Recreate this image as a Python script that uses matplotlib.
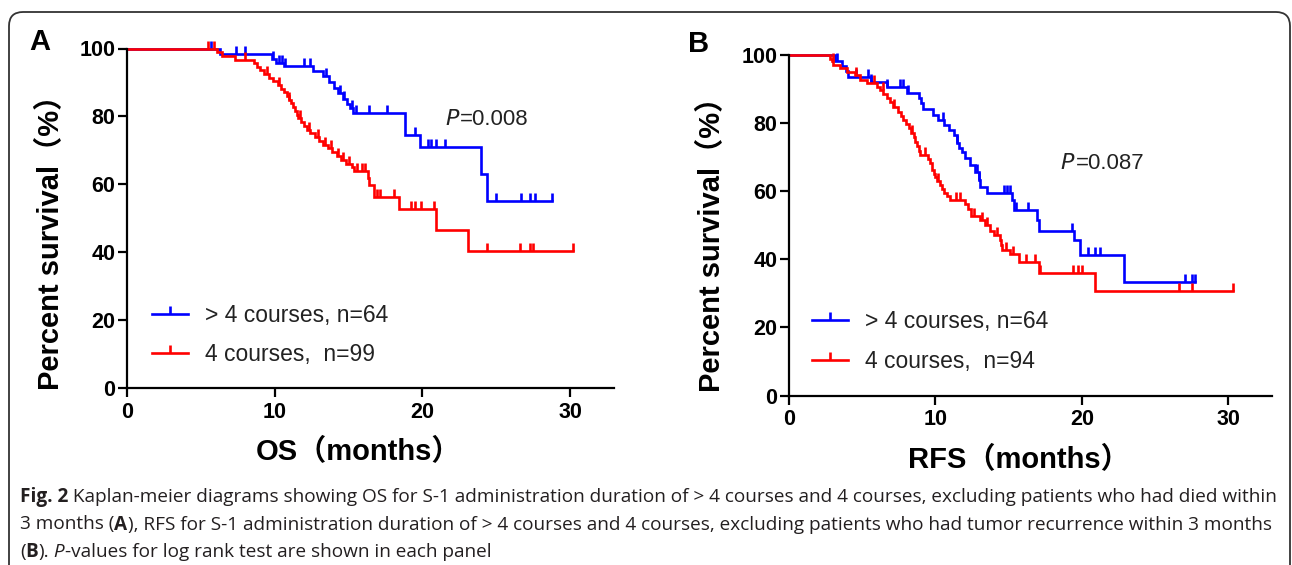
import numpy as np
import matplotlib
matplotlib.use("Agg")
import matplotlib.pyplot as plt
from matplotlib.path import Path
from matplotlib.lines import Line2D
from matplotlib.patches import FancyBboxPatch
from matplotlib.transforms import IdentityTransform
from matplotlib.font_manager import FontProperties

# ---------------- data ----------------
# Panel A : OS
os_blue_t = [6.3, 9.8, 10.1, 10.6, 12.6, 13.3, 13.7, 14.0, 14.3, 14.6, 14.9, 15.1, 15.3,
             18.8, 19.85, 24.0, 24.35]
os_blue_s = [98.4, 96.8, 95.8, 94.8, 93.4, 91.8, 90.1, 88.4, 86.8, 85.2, 83.7, 82.4, 81.0,
             74.6, 71.0, 63.0, 55.0]
os_blue_cens = [5.7, 7.4, 8.0, 9.9, 10.3, 10.5, 10.7, 12.0, 12.4, 13.5, 14.4, 14.7, 15.2,
                15.5, 16.4, 17.6, 19.5, 20.4, 20.6, 20.9, 21.5, 25.0, 26.7, 27.3, 27.6, 28.8]

os_red_t = [6.1, 6.4, 7.3, 8.6, 8.8, 9.0, 9.3, 9.6, 9.9, 10.2, 10.4, 10.6, 10.8, 10.95,
            11.1, 11.25, 11.4, 11.5, 11.6, 11.8, 12.0, 12.2, 12.4, 12.7, 13.0, 13.3, 13.6,
            13.9, 14.2, 14.5, 14.8, 15.2, 15.4, 16.3, 16.4, 16.7, 18.4, 20.9, 23.1]
os_red_s = [98.9, 97.8, 96.7, 95.7, 94.6, 93.6, 92.5, 91.4, 90.4, 89.3, 88.2, 87.1, 86.0, 84.9,
            83.8, 82.7, 81.6, 80.5, 79.4, 78.3, 77.2, 76.1, 75.0, 73.9, 72.8, 71.7, 70.6,
            69.5, 68.3, 67.2, 66.1, 65.0, 63.8, 62.0, 59.9, 56.4, 52.8, 46.6, 40.4]
os_red_cens = [5.5, 5.9, 8.0, 9.5, 10.3, 11.0, 11.7, 12.3, 12.9, 13.4, 13.8, 14.3, 14.6, 15.0,
               15.6, 15.9, 16.1, 16.9, 17.1, 18.1, 19.2, 19.5, 19.9, 20.8, 24.4, 26.6, 27.3,
               27.5, 30.2]

# Panel B : RFS
rfs_blue_t = [3.14, 3.6, 3.9, 4.05, 5.6, 6.68, 8.04, 8.9, 9.0, 9.18, 9.86, 10.2, 10.55, 10.89,
              11.23, 11.46, 11.6, 11.8, 12.03, 12.37, 12.71, 12.94, 13.06, 13.51, 15.22, 15.33,
              16.93, 17.04, 19.43, 19.89, 22.85]
rfs_blue_s = [98.4, 96.9, 95.3, 93.7, 92.2, 90.6, 89.0, 87.4, 85.9, 84.2, 82.5, 81.0, 79.5, 78.0,
              76.5, 74.2, 72.8, 71.7, 69.7, 67.8, 65.8, 63.4, 61.4, 59.5, 57.5, 54.5,
              51.6, 48.5, 45.7, 41.3, 33.5]
rfs_blue_cens = [3.3, 4.6, 5.4, 5.6, 6.7, 7.6, 7.8, 8.1, 10.5, 11.5, 12.8, 13.0, 14.7, 14.9,
                 15.1, 15.5, 16.3, 19.3, 20.4, 20.9, 21.2, 27.0, 27.5, 27.7]

rfs_red_t = [2.8, 2.95, 3.03, 3.5, 3.94, 4.5, 4.85, 5.3, 6.0, 6.2, 6.45, 6.68, 6.9, 7.13, 7.47,
             7.65, 7.81, 8.0, 8.16, 8.35, 8.5, 8.6, 8.73, 8.85, 8.95, 9.52, 9.6, 9.75, 9.9,
             10.0, 10.1, 10.3, 10.45, 10.6, 10.8, 11.0, 12.0, 12.2, 12.4, 13.06, 13.4, 13.74,
             14.0, 14.42, 14.5, 14.55, 15.1, 15.67, 17.04, 20.92]
rfs_red_s = [98.9, 98.2, 97.2, 96.2, 95.2, 94.2, 92.8, 91.8, 90.8, 89.8, 88.6, 87.4, 86.2, 84.9,
             83.4, 82.2, 81.0, 79.8, 78.6, 77.3, 76.1, 74.6, 73.2, 71.9, 70.7, 69.5, 68.4,
             66.2, 65.2, 64.1, 63.0, 61.9, 60.8, 59.6, 58.5, 57.5, 56.4, 54.8, 52.9, 51.5,
             50.0, 48.5, 47.1, 45.7, 44.2, 42.8, 41.5, 39.3, 35.9, 30.8]
rfs_red_cens = [3.0, 4.6, 5.8, 6.4, 7.2, 8.4, 9.3, 10.2, 11.4, 11.7, 12.6, 13.2, 13.5, 14.2,
                14.8, 15.3, 16.2, 16.8, 17.1, 19.4, 19.7, 20.0, 26.6, 27.5, 30.3]

x_ticks = [0, 10, 20, 30]
y_ticks = [0, 20, 40, 60, 80, 100]
blue_label = "> 4 courses, n=64"
red_labels = ["4 courses,  n=99", "4 courses,  n=94"]
p_texts = ["0.008", "0.087"]
x_labels = ["OS（months）", "RFS（months）"]
y_label = "Percent survival（%）"
panel_letters = ["A", "B"]

# ---------------- figure ----------------
W, H = 1292, 565
fig = plt.figure(figsize=(W / 100, H / 100), dpi=100)
fig.patch.set_facecolor("white")

BLUE = "#0000FF"
RED = "#FF0000"
LW = 1.9
tick_up = Path([(0, 0), (0, 1)], [Path.MOVETO, Path.LINETO])

lab_family = ["Liberation Sans", "Noto Sans CJK SC", "DejaVu Sans"]


def px_axes(left_px, x0_px, top_px, bottom_px, xmax, xscale):
    right_px = x0_px + xmax * xscale
    return fig.add_axes([left_px / W, (H - bottom_px) / H,
                         (right_px - left_px) / W, (bottom_px - top_px) / H])


def km(ax, times, surv, cens, color, end):
    xs = [0] + list(times) + [end]
    ys = [100] + list(surv) + [surv[-1]]
    ax.step(xs, ys, where="post", color=color, lw=LW, clip_on=False,
            solid_joinstyle="miter")
    levels = np.array([100] + list(surv))
    idx = np.searchsorted(np.array(times), np.array(cens), side="right")
    ax.plot(cens, levels[idx], linestyle="none", marker=tick_up, ms=12, mew=LW,
            color=color, clip_on=False)


panels = [
    dict(x0=127, xs=14.77, top=48.5, bot=388.0, xmax=33.0,
         blue=(os_blue_t, os_blue_s, os_blue_cens), red=(os_red_t, os_red_s, os_red_cens),
         p_xy=(21.5, 79.0), leg=(0.051, 0.248), ylab=(-0.155, 0.45), xlab=(0.474, -0.19),
         letter=(40, 42)),
    dict(x0=789, xs=14.65, top=55.3, bot=395.5, xmax=33.0,
         blue=(rfs_blue_t, rfs_blue_s, rfs_blue_cens), red=(rfs_red_t, rfs_red_s, rfs_red_cens),
         p_xy=(18.5, 68.3), leg=(0.047, 0.251), ylab=(-0.159, 0.466), xlab=(0.476, -0.19),
         letter=(699, 44)),
]

for i, p in enumerate(panels):
    ax = px_axes(p["x0"], p["x0"], p["top"], p["bot"], p["xmax"], p["xs"])
    ax.set_xlim(0, p["xmax"])
    ax.set_ylim(0, 100)
    for s in ("top", "right"):
        ax.spines[s].set_visible(False)
    for s in ("left", "bottom"):
        ax.spines[s].set_linewidth(1.6)
        ax.spines[s].set_color("black")
    ax.set_xticks(x_ticks)
    ax.set_yticks(y_ticks)
    ax.tick_params(direction="out", length=6.5, width=1.6, color="black")
    ax.tick_params(axis="x", pad=3.5)
    ax.tick_params(axis="y", pad=2)
    for lab in ax.get_xticklabels() + ax.get_yticklabels():
        lab.set_fontfamily("Liberation Sans")
        lab.set_fontweight("bold")
        lab.set_fontsize(15.5)

    end_b = max(p["blue"][2])
    end_r = max(p["red"][2])
    km(ax, *p["blue"], BLUE, end_b)
    km(ax, *p["red"], RED, end_r)

    ax.set_ylabel(y_label, family=lab_family, fontweight="bold", fontsize=21,
                  rotation=90, ha="center", va="center")
    ax.yaxis.set_label_coords(*p["ylab"])
    ax.set_xlabel(x_labels[i], family=lab_family, fontweight="bold", fontsize=21,
                  ha="center", va="center")
    ax.xaxis.set_label_coords(*p["xlab"])

    ax.text(p["p_xy"][0], p["p_xy"][1], "$\\mathit{P}$", fontsize=16, ha="left",
            va="center", color="#222222", family="Liberation Sans")
    ax.text(p["p_xy"][0] + 1.05, p["p_xy"][1], "=" + p_texts[i], fontsize=16, ha="left",
            va="center", color="#222222", family="Liberation Sans")

    handles = [Line2D([], [], color=BLUE, lw=LW, marker=tick_up, ms=12, mew=LW),
               Line2D([], [], color=RED, lw=LW, marker=tick_up, ms=12, mew=LW)]
    leg = ax.legend(handles, [blue_label, red_labels[i]], loc="upper left",
                    bbox_to_anchor=p["leg"], frameon=False, borderpad=0, borderaxespad=0,
                    handlelength=1.57, handletextpad=0.74, labelspacing=0.72, numpoints=1,
                    prop=FontProperties(family="Liberation Sans", size=16.5))
    for t in leg.get_texts():
        t.set_color("#222222")

    fig.text(p["letter"][0] / W, 1 - p["letter"][1] / H, panel_letters[i], fontsize=21,
             fontweight="bold", family="Liberation Sans", ha="center", va="center")

# ---------------- border ----------------
border = FancyBboxPatch((9, -40), 1281, H - 12 + 40,
                        boxstyle="round,pad=0,rounding_size=14",
                        transform=IdentityTransform(), fill=False, lw=1.3, ec="#333333")
fig.add_artist(border)

# ---------------- caption ----------------
cap_color = "#231F20"
renderer = fig.canvas.get_renderer()


def width_px(s, fp):
    w1, _, _ = renderer.get_text_width_height_descent("|" + s + "|", fp, ismath=False)
    w0, _, _ = renderer.get_text_width_height_descent("||", fp, ismath=False)
    return w1 - w0


cap_lines = [
    [("Fig. 2", "bold", "normal"),
     (" Kaplan-meier diagrams showing OS for S-1 administration duration of > 4 courses and 4 courses, excluding patients who had died within", "normal", "normal")],
    [("3 months (", "normal", "normal"), ("A", "bold", "normal"),
     ("), RFS for S-1 administration duration of > 4 courses and 4 courses, excluding patients who had tumor recurrence within 3 months", "normal", "normal")],
    [("(", "normal", "normal"), ("B", "bold", "normal"), (").", "normal", "normal"),
     (" P", "normal", "italic"), ("-values for log rank test are shown in each panel", "normal", "normal")],
]


def fp_for(weight, style, size):
    return FontProperties(family="Open Sans", weight=weight, style=style, size=size)


# fit first line into its measured span
target = 1263.0
w10 = sum(width_px(s, fp_for(wt, st, 10)) for s, wt, st in cap_lines[0])
cap_size = 10 * target / w10
baselines = [502, 529.5, 557]
for line, yb in zip(cap_lines, baselines):
    x = 20.0
    for s, wt, st in line:
        fp = fp_for(wt, st, cap_size)
        fig.text(x / W, 1 - yb / H, s, fontproperties=fp, color=cap_color,
                 ha="left", va="baseline")
        x += width_px(s, fp)

fig.savefig("out.png", dpi=100, facecolor="white")
